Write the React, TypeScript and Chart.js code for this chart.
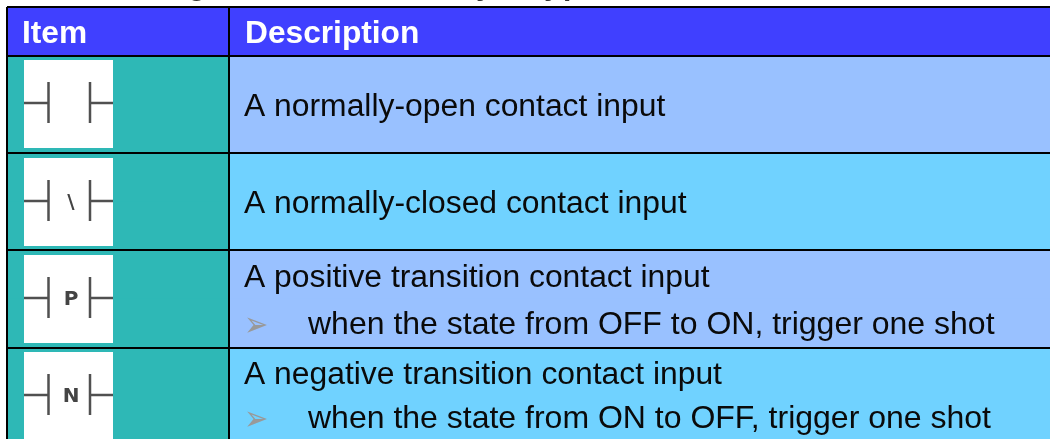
import React, { useEffect, useRef } from "react";
import { Chart, registerables } from "chart.js";

Chart.register(...registerables);

// Each table row spans two half-row slots; the header spans one.
const slots = ["Header", "R1a", "R1b", "R2a", "R2b", "R3a", "R3b", "R4a", "R4b"];
const itemWidths = [222, 222, 222, 222, 222, 222, 222, 222, 222];
const descWidths = [821, 821, 821, 821, 821, 821, 821, 821, 821];
const itemColors = ["#4040FF", "#2EB8B6", "#2EB8B6", "#2EB8B6", "#2EB8B6", "#2EB8B6", "#2EB8B6", "#2EB8B6", "#2EB8B6"];
const descColors = ["#4040FF", "#99C1FF", "#99C1FF", "#70D2FF", "#70D2FF", "#99C1FF", "#99C1FF", "#70D2FF", "#70D2FF"];
const ruleSlots = [0, 1, 3, 5, 7];
const columnRules = [0, 222];

const headers = ["Item", "Description"];
const rowCentres = [1.5, 3.5, 5.5, 7.5];
const symbols = ["", "\\", "P", "N"];
const mainLines = [
  "A normally-open contact input",
  "A normally-closed contact input",
  "A positive transition contact input",
  "A negative transition contact input",
];
const mainOffsets = [12, 11, -12, -12];
const subLines = [
  "",
  "",
  "when the state from OFF to ON, trigger one shot",
  "when the state from ON to OFF, trigger one shot",
];
const subOffsets = [0, 0, 35, 32];
const titleFragments: [string, number][] = [["g", 188], ["y", 476], ["y", 544], ["p", 563]];

const tablePlugin = {
  id: "tableText",
  afterDraw(chart: any) {
    const { ctx, scales } = chart;
    const x = scales.x;
    const y = scales.y;
    const font = (w: string, s: number, f = '"Liberation Sans"') => `${w} ${s}px ${f}`;
    ctx.save();
    ctx.textBaseline = "alphabetic";
    ctx.textAlign = "left";

    ctx.fillStyle = "#333333";
    ctx.font = font("bold", 30);
    titleFragments.forEach(([t, px]) => ctx.fillText(t, px, -5));

    ctx.fillStyle = "#FFFFFF";
    ctx.font = font("bold", 31.7);
    ctx.fillText(headers[0], x.getPixelForValue(15), 43);
    ctx.fillText(headers[1], x.getPixelForValue(238), 43);

    rowCentres.forEach((slot, i) => {
      const cy = y.getPixelForValue(slot);
      // contact icon
      const left = x.getPixelForValue(17);
      const right = x.getPixelForValue(106);
      ctx.fillStyle = "#FFFFFF";
      ctx.fillRect(left, Math.round(cy) - 44, right - left, 88);
      ctx.strokeStyle = "#505050";
      ctx.lineWidth = 2.5;
      const a = x.getPixelForValue(41.5);
      const b = x.getPixelForValue(83);
      const c = Math.round(cy) - 1;
      ctx.beginPath();
      ctx.moveTo(left, c);
      ctx.lineTo(a, c);
      ctx.moveTo(a, c - 21);
      ctx.lineTo(a, c + 20);
      ctx.moveTo(b, c - 21);
      ctx.lineTo(b, c + 20);
      ctx.moveTo(b, c);
      ctx.lineTo(right, c);
      ctx.stroke();
      ctx.fillStyle = "#444444";
      ctx.textAlign = "center";
      ctx.font = font("bold", 20, '"DejaVu Sans"');
      ctx.fillText(symbols[i], x.getPixelForValue(64), c + 7);
      ctx.textAlign = "left";

      // description text
      ctx.fillStyle = "#0A0A0A";
      ctx.font = font("normal", 31.85);
      ctx.fillText(mainLines[i], x.getPixelForValue(237), cy + mainOffsets[i]);
      if (subLines[i]) {
        ctx.font = font("normal", 32);
        ctx.fillText(subLines[i], x.getPixelForValue(301), cy + subOffsets[i]);
        ctx.save();
        ctx.translate(x.getPixelForValue(237), cy + subOffsets[i] + 2);
        ctx.scale(1, 1.2);
        ctx.fillStyle = "#999999";
        ctx.font = font("normal", 29, '"DejaVu Sans"');
        ctx.fillText("\u27A2", 0, 0);
        ctx.restore();
      }
    });
    ctx.restore();
  },
};

export default function App() {
  const ref = useRef<HTMLCanvasElement>(null);
  useEffect(() => {
    if (!ref.current) return;
    const chart = new Chart(ref.current, {
      type: "bar",
      data: {
        labels: slots,
        datasets: [
          { label: "Item", data: itemWidths, backgroundColor: itemColors, barPercentage: 1, categoryPercentage: 1, borderWidth: 0 },
          { label: "Description", data: descWidths, backgroundColor: descColors, barPercentage: 1, categoryPercentage: 1, borderWidth: 0 },
        ],
      },
      options: {
        indexAxis: "y",
        responsive: false,
        animation: false,
        layout: { padding: { left: 7, top: 7, right: 0, bottom: 0 } },
        plugins: { legend: { display: false }, tooltip: { enabled: false }, title: { display: false } },
        scales: {
          x: {
            type: "linear",
            stacked: true,
            min: 0,
            max: 1043,
            border: { display: false },
            ticks: { display: false },
            afterBuildTicks: (axis: any) => {
              axis.ticks = columnRules.map((value) => ({ value }));
            },
            grid: { color: "#000000", lineWidth: 2, drawTicks: false, z: 1 },
          },
          y: {
            type: "category",
            stacked: true,
            border: { display: false },
            ticks: { display: false },
            grid: {
              offset: true,
              lineWidth: 2,
              drawTicks: false,
              z: 1,
              color: (c: any) => (ruleSlots.includes(c.index) ? "#000000" : "rgba(0,0,0,0)"),
            },
          },
        },
      },
      plugins: [tablePlugin],
    } as any);
    return () => chart.destroy();
  }, []);
  return (
    <div style={{ position: "fixed", left: 0, top: 0, width: 1050, height: 439, overflow: "hidden", background: "#FFFFFF" }}>
      <canvas ref={ref} width={1050} height={445} style={{ display: "block" }} />
    </div>
  );
}
